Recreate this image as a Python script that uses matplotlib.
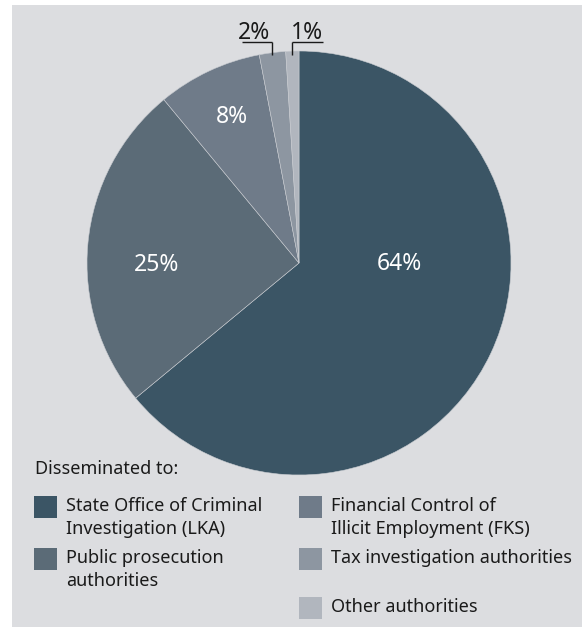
import matplotlib
matplotlib.use("Agg")
import matplotlib.pyplot as plt
from matplotlib.patches import Rectangle
import numpy as np

plt.rcParams['font.family'] = ['Noto Sans', 'DejaVu Sans']

# Shares of disseminated reports by recipient authority (percent)
categories = [
    "State Office of Criminal\nInvestigation (LKA)",
    "Public prosecution\nauthorities",
    "Financial Control of\nIllicit Employment (FKS)",
    "Tax investigation authorities",
    "Other authorities",
]
shares = [64, 25, 8, 2, 1]
share_labels = ["64%", "25%", "8%", "2%", "1%"]
legend_title = "Disseminated to:"

colors = ["#3b5565", "#5b6b77", "#6f7b89", "#8d96a1", "#b1b6be"]
panel_bg = "#dcdde0"

W, H = 582, 627
fig = plt.figure(figsize=(W / 100, H / 100), dpi=100, facecolor="white")


def fx(px):
    return px / W


def fy(py):
    return 1 - py / H


# grey panel behind everything
fig.patches.append(Rectangle((fx(12), 0), 1 - fx(12), fy(5), transform=fig.transFigure,
                             facecolor=panel_bg, edgecolor="none", zorder=-5))

# pie axes: centre (299, 263) px, radius 212 px
cx, cy, r = 299, 263, 212
ax = fig.add_axes([fx(cx - r), fy(cy + r), 2 * r / W, 2 * r / H])
ax.axis("off")
ax.patch.set_alpha(0)

wedges, _ = ax.pie(shares, colors=colors, startangle=90, counterclock=False,
                   radius=1, wedgeprops=dict(edgecolor="#c9ccd1", linewidth=0.4))
ax.set_xlim(-1, 1)
ax.set_ylim(-1, 1)

# labels inside the large wedges
inside_pos = {0: (0.474, -0.005), 1: (-0.67, -0.01), 2: (-0.316, 0.69)}
for i, (x, y) in inside_pos.items():
    ax.text(x, y, share_labels[i], color="white", fontsize=16.5,
            ha="center", va="center")

# leader lines for the thin wedges
outside = {3: (-1, -0.212), 4: (1, 0.038)}
total = sum(shares)
for i, (direction, tx) in outside.items():
    start = sum(shares[:i])
    mid = (start + shares[i] / 2) / total * 2 * np.pi
    lx = np.sin(mid)
    y_top = 1.042
    ax.plot([lx, lx], [0.98, y_top], color="#1a1a1a", lw=1.0, clip_on=False,
            solid_capstyle="butt")
    ax.plot([lx, lx + direction * 0.145], [y_top, y_top], color="#1a1a1a", lw=1.0,
            clip_on=False, solid_capstyle="butt")
    ax.text(tx, 1.058, share_labels[i], color="#1a1a1a", fontsize=16.5,
            ha="center", va="baseline")

# legend
text_color = "#1a1a1a"
fs = 13
fig.text(fx(35), fy(474), legend_title, fontsize=fs, color=text_color, va="baseline")

slots = [(34, 496), (34, 548), (299, 496), (299, 548), (299, 597)]
for (sx, sy), label, c in zip(slots, categories, colors):
    fig.patches.append(Rectangle((fx(sx), fy(sy + 22)), 23 / W, 22 / H,
                                 transform=fig.transFigure, facecolor=c,
                                 edgecolor="none", zorder=2))
    for k, line in enumerate(label.split("\n")):
        fig.text(fx(sx + 32), fy(sy + 15 + 23 * k), line, fontsize=fs,
                 color=text_color, va="baseline")

fig.savefig("out.png", dpi=100, facecolor="white")
